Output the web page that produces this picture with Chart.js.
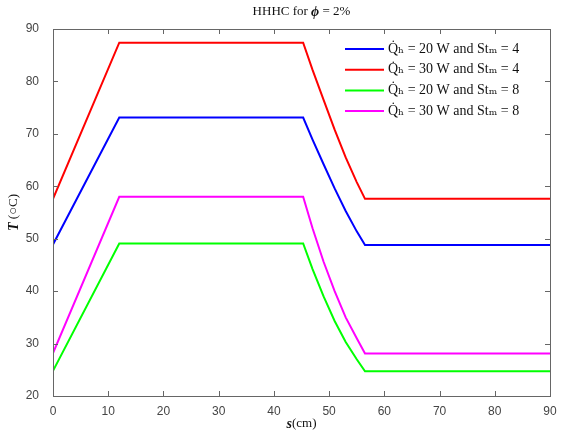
<!DOCTYPE html>
<html>
<head>
<meta charset="utf-8">
<script src="https://cdn.jsdelivr.net/npm/chart.js@4.4.0/dist/chart.umd.min.js"></script>
<style>
  html, body { margin: 0; padding: 0; background: #fff; }
  #wrap { width: 563px; height: 436px; }
</style>
</head>
<body>
<div id="wrap"><canvas id="hhhc" width="563" height="436"></canvas></div>
<script>
// Position along the channel (cm) where each series has a break point
const sPoints = [0, 12, 45.3, 47, 49, 51, 53, 55, 56.5, 90];

// Temperature (°C) at each sPoints entry
const tempQ20St4 = [48.9, 73.1, 73.1, 68.9, 64.2, 59.6, 55.3, 51.4, 48.8, 48.8];
const tempQ30St4 = [57.6, 87.4, 87.4, 82.2, 76.5, 70.8, 65.5, 60.8, 57.6, 57.6];
const tempQ20St8 = [24.8, 49.1, 49.1, 44.2, 39.0, 34.3, 30.3, 27.0, 24.7, 24.7];
const tempQ30St8 = [28.2, 58.0, 58.0, 52.0, 45.6, 40.0, 35.0, 31.0, 28.1, 28.1];

const seriesLabels = [
  'Q\u0307\u2095 = 20 W and St\u2098 = 4',
  'Q\u0307\u2095 = 30 W and St\u2098 = 4',
  'Q\u0307\u2095 = 20 W and St\u2098 = 8',
  'Q\u0307\u2095 = 30 W and St\u2098 = 8'
];
const seriesColors = ['#0000ff', '#ff0000', '#00ff00', '#ff00ff'];

const xTicks = [0, 10, 20, 30, 40, 50, 60, 70, 80, 90];
const yTicks = [20, 30, 40, 50, 60, 70, 80, 90];

const serif = '"Liberation Serif", "DejaVu Serif", serif';
const sans = '"Liberation Sans", Arial, sans-serif';

function toPoints(values) {
  return values.map((v, i) => ({ x: sPoints[i], y: v }));
}

// draws text made of segments with their own font
function drawRich(ctx, parts, x, y, align) {
  let total = 0;
  parts.forEach(p => { ctx.font = p.font; total += ctx.measureText(p.text).width; });
  let cx = align === 'center' ? x - total / 2 : x;
  parts.forEach(p => {
    ctx.font = p.font;
    ctx.fillText(p.text, cx, y);
    cx += ctx.measureText(p.text).width;
  });
}

// Frame, inward ticks on all four sides, title, axis labels and legend
const matlabLook = {
  id: 'matlabLook',
  afterDatasetsDraw(chart) {
    const ctx = chart.ctx;
    const a = chart.chartArea;
    const xs = chart.scales.x, ys = chart.scales.y;
    ctx.save();
    ctx.strokeStyle = '#666';
    ctx.lineWidth = 1;
    ctx.beginPath();
    xTicks.forEach(t => {
      const px = Math.round(xs.getPixelForValue(t)) + 0.5;
      ctx.moveTo(px, a.bottom); ctx.lineTo(px, a.bottom - 5);
      ctx.moveTo(px, a.top); ctx.lineTo(px, a.top + 5);
    });
    yTicks.forEach(t => {
      const py = Math.round(ys.getPixelForValue(t)) + 0.5;
      ctx.moveTo(a.left, py); ctx.lineTo(a.left + 5, py);
      ctx.moveTo(a.right, py); ctx.lineTo(a.right - 5, py);
    });
    ctx.stroke();
    ctx.strokeRect(Math.round(a.left) + 0.5, Math.round(a.top) + 0.5,
                   Math.round(a.right - a.left), Math.round(a.bottom - a.top));

    // legend
    ctx.textBaseline = 'middle';
    ctx.fillStyle = '#111';
    chart.data.datasets.forEach((ds, i) => {
      const ly = 49 + i * 20.7;
      ctx.strokeStyle = ds.borderColor;
      ctx.lineWidth = 2;
      ctx.beginPath();
      ctx.moveTo(345, ly); ctx.lineTo(384, ly);
      ctx.stroke();
      ctx.font = '14px ' + serif;
      ctx.textAlign = 'left';
      ctx.fillText(ds.label, 388, ly);
    });

    // title and axis labels
    const mid = (a.left + a.right) / 2;
    drawRich(ctx, [
      { text: 'HHHC for ', font: '13px ' + serif },
      { text: '\u03d5', font: 'bold italic 14px ' + serif },
      { text: ' = 2%', font: '13px ' + serif }
    ], mid, 12, 'center');
    drawRich(ctx, [
      { text: 's', font: 'bold italic 14px ' + serif },
      { text: '(cm)', font: '13px ' + serif }
    ], mid, 424, 'center');
    ctx.translate(14, (a.top + a.bottom) / 2);
    ctx.rotate(-Math.PI / 2);
    drawRich(ctx, [
      { text: 'T', font: 'bold italic 14px ' + serif },
      { text: ' (\u25cbC)', font: '13px ' + serif }
    ], 0, 0, 'center');
    ctx.restore();
  }
};

const datasets = [tempQ20St4, tempQ30St4, tempQ20St8, tempQ30St8].map((vals, i) => ({
  label: seriesLabels[i],
  data: toPoints(vals),
  borderColor: seriesColors[i],
  backgroundColor: seriesColors[i],
  borderWidth: 2,
  pointRadius: 0,
  tension: 0
}));

new Chart(document.getElementById('hhhc'), {
  type: 'line',
  data: { datasets: datasets },
  options: {
    responsive: false,
    animation: false,
    layout: { padding: { top: 29, right: 13, left: 0, bottom: 0 } },
    plugins: { legend: { display: false }, tooltip: { enabled: false } },
    scales: {
      x: {
        type: 'linear', min: 0, max: 90,
        afterBuildTicks: s => { s.ticks = xTicks.map(v => ({ value: v })); },
        afterFit: s => { s.height = 40; },
        ticks: { color: '#444', font: { family: sans, size: 12 }, padding: 0, maxRotation: 0 },
        grid: { display: false },
        border: { display: false }
      },
      y: {
        min: 20, max: 90,
        afterBuildTicks: s => { s.ticks = yTicks.map(v => ({ value: v })); },
        afterFit: s => { s.width = 53; },
        ticks: { color: '#444', font: { family: sans, size: 12 }, padding: 6 },
        grid: { display: false },
        border: { display: false }
      }
    }
  },
  plugins: [matlabLook]
});
</script>
</body>
</html>
